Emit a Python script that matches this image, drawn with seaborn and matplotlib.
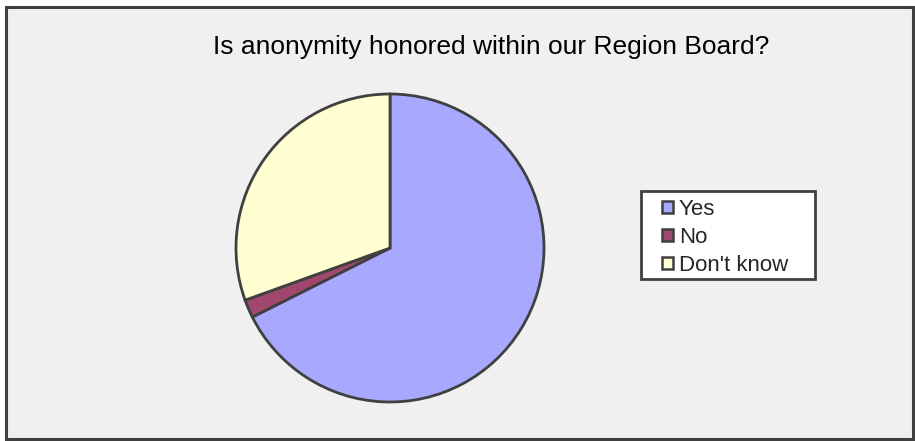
import matplotlib.pyplot as plt
import seaborn as sns
import numpy as np
import pandas as pd
from matplotlib.patches import Rectangle

# Survey answers
respostas = ["Yes", "No", "Don't know"]
percentuais = [67.6, 1.9, 30.5]
cores = ["#a8a8fe", "#a1466f", "#ffffd2"]

sns.set_style("white")
plt.rcParams['font.family'] = ['Liberation Sans', 'DejaVu Sans']

df = pd.DataFrame({"resposta": respostas, "pct": percentuais})

fig = plt.figure(figsize=(9.15, 4.41), dpi=100)
fig.patch.set_facecolor("white")

# moldura cinza do grafico
fig.patches.append(Rectangle((6 / 915, 1 - 439 / 441), 907 / 915, 432 / 441,
                             transform=fig.transFigure, facecolor="#f0f0f0",
                             edgecolor="#404040", linewidth=2.2, zorder=-10))
# caixa da legenda
fig.patches.append(Rectangle((641 / 915, 1 - 279 / 441), 174 / 915, 88 / 441,
                             transform=fig.transFigure, facecolor="white",
                             edgecolor="#404040", linewidth=2, zorder=-5))

cx, cy, r = 390 / 915, 1 - 248 / 441, 154
w, h = 2 * r / 915, 2 * r / 441
ax = fig.add_axes([cx - w / 2, cy - h / 2, w, h])
ax.set_facecolor("none")

wedges, _ = ax.pie(df["pct"], colors=cores, startangle=90, counterclock=False,
                   radius=1, wedgeprops=dict(edgecolor="#404040", linewidth=2))
for wd in wedges:
    wd.set_clip_on(False)
ax.set_xlim(-1, 1)
ax.set_ylim(-1, 1)
ax.axis("off")

fig.text(491 / 915, 1 - 47 / 441, "Is anonymity honored within our Region Board?",
         ha="center", va="center", fontsize=19, color="black")

leg = fig.legend(wedges, df["resposta"], loc="upper left",
                 bbox_to_anchor=(662 / 915, 1 - 199 / 441), bbox_transform=fig.transFigure,
                 fontsize=16, frameon=False, handlelength=0.5,
                 handleheight=0.5, handletextpad=0.25, labelspacing=0.31,
                 borderpad=0, borderaxespad=0)
for hnd in leg.legend_handles:
    hnd.set_linewidth(1.8)

fig.savefig("out.png", dpi=100)
